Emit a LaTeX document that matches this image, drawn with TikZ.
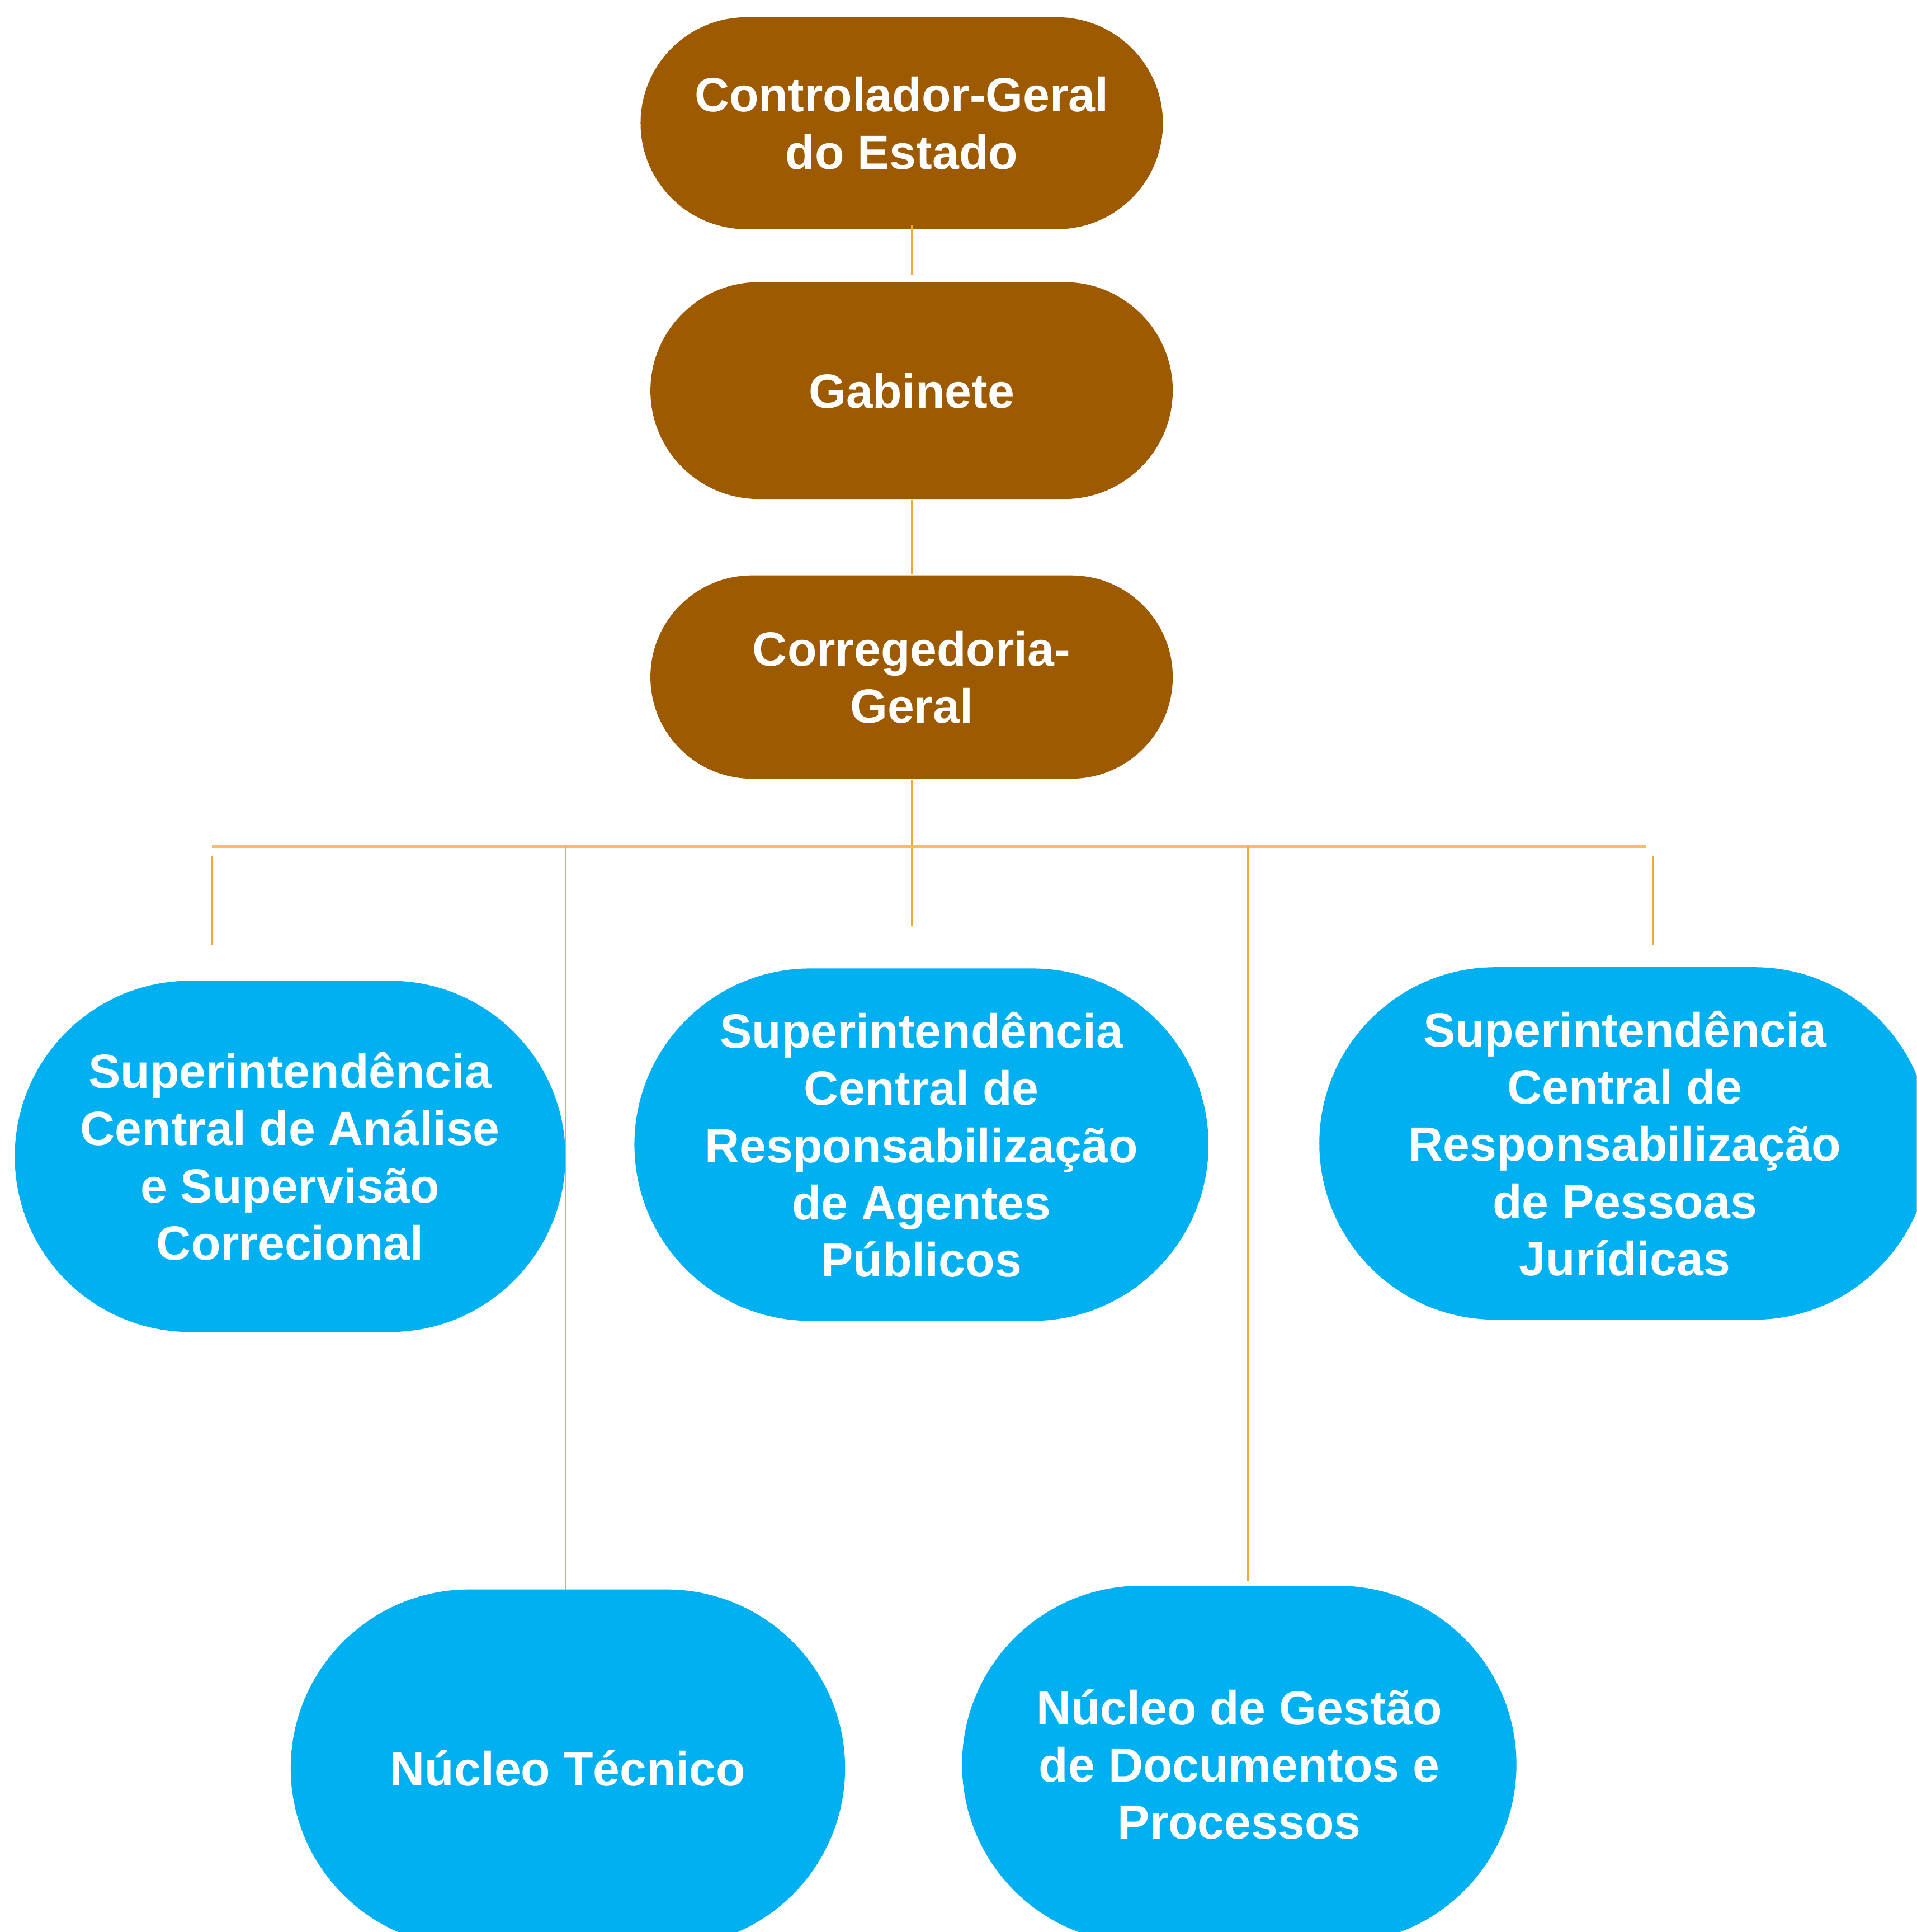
\documentclass[tikz,border=0pt]{standalone}
\usepackage{fontspec}
\setmainfont{Liberation Sans}
\usetikzlibrary{shapes.misc}
\definecolor{brownbox}{RGB}{158,90,0}
\definecolor{bluebox}{RGB}{0,176,240}
\definecolor{linkline}{RGB}{247,166,54}
\definecolor{busline}{RGB}{250,188,100}
\tikzset{
  orgbox/.style={rounded rectangle, inner sep=0pt, align=center, text=white,
                 font=\fontsize{11.1}{13.2}\selectfont\bfseries},
  topbox/.style={orgbox, fill=brownbox, minimum width=4.24cm},
  subbox/.style={orgbox, fill=bluebox},
  link/.style={draw=linkline, line width=0.4pt},
  bus/.style={draw=busline, line width=0.8pt}
}

\begin{document}
\begin{tikzpicture}
	%% page
	\clip (0,0) rectangle (15.56,-15.68);
	\fill[white] (0,0) rectangle (15.56,-15.68);
	%% upper units
	\node[topbox, minimum height=1.72cm] (ctrl) at (7.32,-1.00) {Controlador-Geral\\do Estado};
	\node[topbox, minimum height=1.76cm] (gab) at (7.40,-3.17) {Gabinete};
	\node[topbox, minimum height=1.65cm] (corr) at (7.40,-5.495) {Corregedoria-\\Geral};
	%% lower units
	\node[subbox, minimum width=4.47cm, minimum height=2.85cm] (sacs) at (2.355,-9.385)
		{Superintendência\\Central de Análise\\e Supervisão\\Correcional};
	\node[subbox, minimum width=4.66cm, minimum height=2.86cm] (srap) at (7.48,-9.29)
		{Superintendência\\Central de\\Responsabilização\\de Agentes\\Públicos};
	\node[subbox, minimum width=4.96cm, minimum height=2.86cm] (srpj) at (13.19,-9.28)
		{Superintendência\\Central de\\Responsabilização\\de Pessoas\\Jurídicas};
	\node[subbox, minimum width=4.50cm, minimum height=2.90cm] (ntec) at (4.61,-14.35) {Núcleo Técnico};
	\node[subbox, minimum width=4.50cm, minimum height=2.90cm] (ngdp) at (10.06,-14.32)
		{Núcleo de Gestão\\de Documentos e\\Processos};
	%% connectors
	\coordinate (busL) at (1.72,-6.87);
	\coordinate (busR) at (13.36,-6.87);
	\draw[link] ([yshift=0.04cm]gab.north |- ctrl.south) -- ([yshift=0.05cm]gab.north);
	\draw[link] (gab.south) -- (corr.north);
	\draw[link] (corr.south) -- ([yshift=0.34cm]corr.south |- srap.north);
	\draw[bus] (busL) -- (busR);
	\draw[link] ([yshift=-0.08cm]busL) -- ([yshift=0.28cm]busL |- sacs.north);
	\draw[link] ([xshift=0.06cm,yshift=-0.08cm]busR) -- ([xshift=0.06cm,yshift=0.17cm]busR |- srpj.north);
	\draw[link] (4.59,-6.87) -- (4.59,-12.90);
	\draw[link] (10.13,-6.87) -- ([yshift=0.03cm]10.13,0 |- ngdp.north);
\end{tikzpicture}
\end{document}
